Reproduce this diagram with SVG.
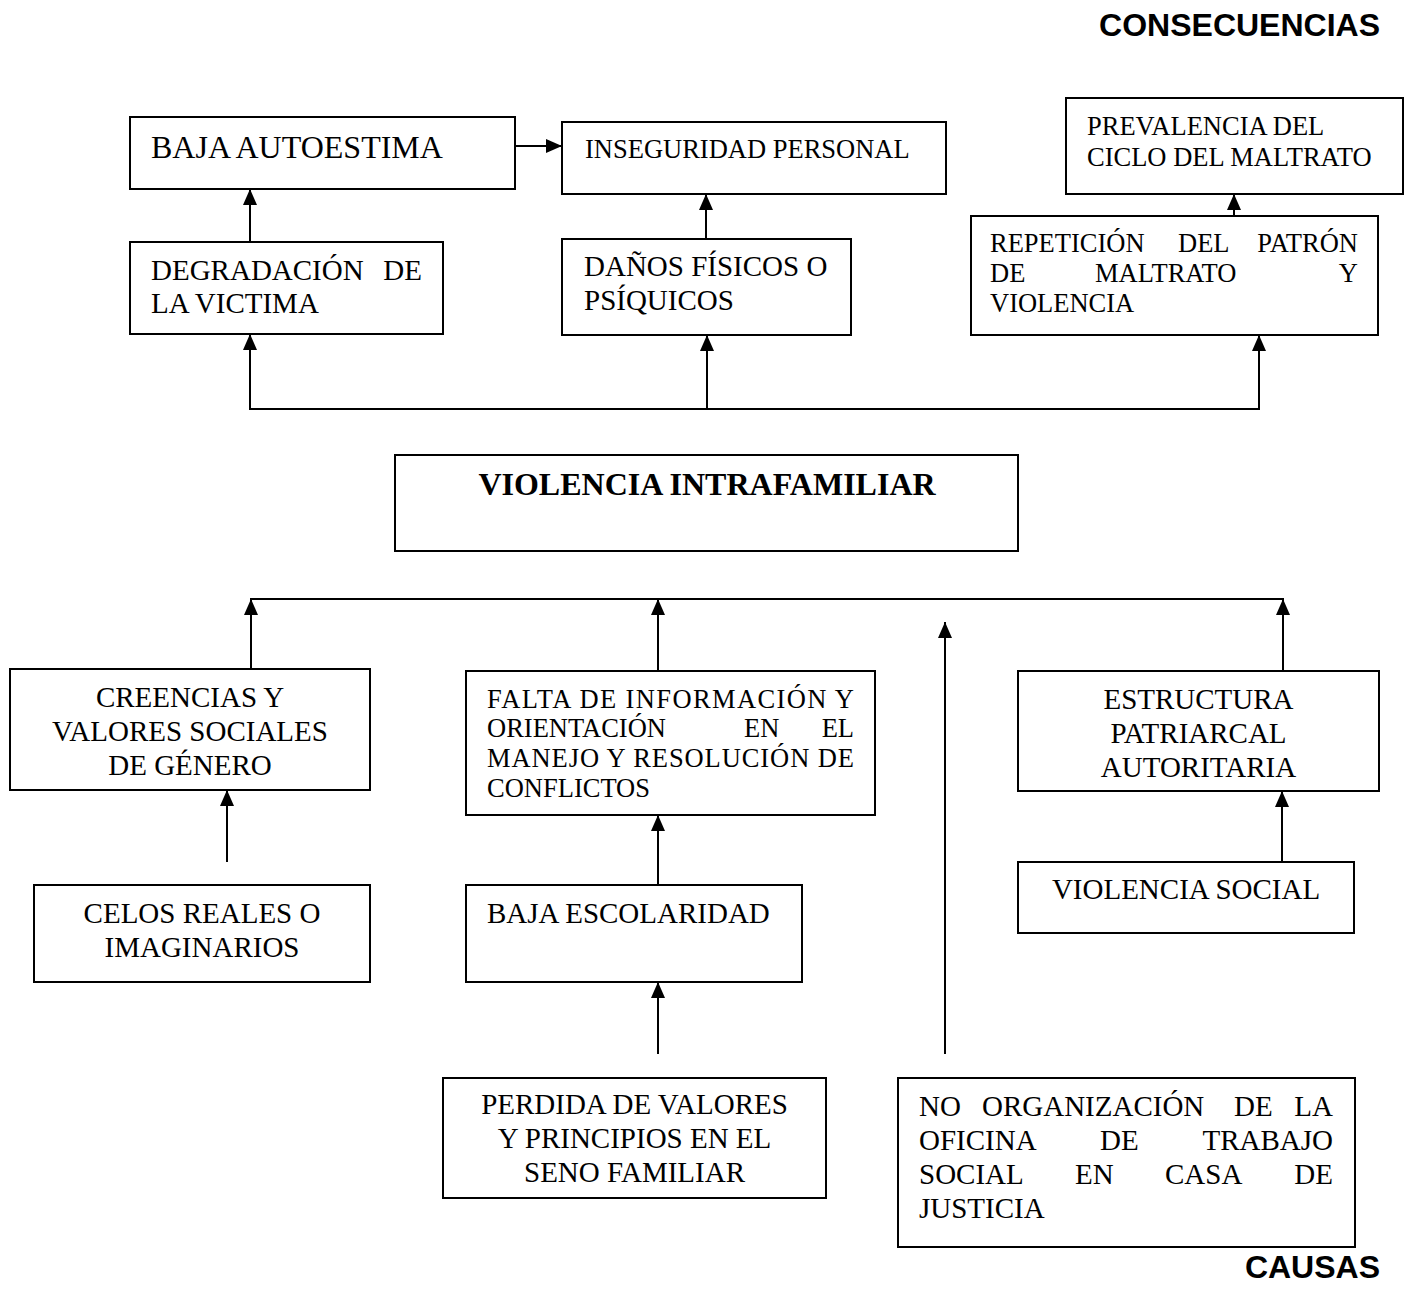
<svg xmlns="http://www.w3.org/2000/svg" width="1410" height="1290" viewBox="0 0 1410 1290">
<style>
.bg{fill:#fff}
.box{fill:#fff;stroke:#000;stroke-width:2}
.ln{fill:none;stroke:#000;stroke-width:2}
.ar{fill:none;stroke:#000;stroke-width:2;marker-end:url(#ah)}
.t{font-family:"Liberation Serif","Times New Roman",serif;fill:#000}
.s26{font-size:26.5px}
.s29{font-size:29px}
.s32{font-size:32px}
.b{font-weight:bold}
.c{text-anchor:middle}
.e{text-anchor:end}
.h{font-family:"Liberation Sans",Arial,sans-serif;font-weight:bold;font-size:32px;fill:#000;text-anchor:end}
</style>
<defs>
<marker id="ah" markerUnits="userSpaceOnUse" markerWidth="16" markerHeight="14" refX="16" refY="7" orient="auto">
<path d="M0,0 L16,7 L0,14 z" fill="#000"/>
</marker>
</defs>
<rect class="bg" x="0" y="0" width="1410" height="1290"/>
<text class="h" x="1380" y="36">CONSECUENCIAS</text>
<text class="h" x="1380" y="1278">CAUSAS</text>

<g id="connectors">
<path class="ar" d="M515,146 H562"/>
<path class="ar" d="M250,242 V189"/>
<path class="ar" d="M706,239 V194"/>
<path class="ar" d="M1234,216 V194"/>
<path class="ln" d="M249,409 H1260"/>
<path class="ar" d="M250,409 V334"/>
<path class="ar" d="M707,409 V335"/>
<path class="ar" d="M1259,409 V335"/>
<path class="ln" d="M250,599 H1284"/>
<path class="ar" d="M251,669 V599"/>
<path class="ar" d="M658,671 V599"/>
<path class="ar" d="M1283,671 V599"/>
<path class="ar" d="M227,862 V790"/>
<path class="ar" d="M658,885 V815"/>
<path class="ar" d="M658,1054 V982"/>
<path class="ar" d="M945,1054 V622"/>
<path class="ar" d="M1282,862 V791"/>
</g>

<g id="baja-autoestima">
<rect class="box" x="130" y="117" width="385" height="72"/>
<text class="t s32" x="151" y="158">BAJA AUTOESTIMA</text>
</g>
<g id="inseguridad-personal">
<rect class="box" x="562" y="122" width="384" height="72"/>
<text class="t s26" x="585" y="158">INSEGURIDAD PERSONAL</text>
</g>
<g id="prevalencia">
<rect class="box" x="1066" y="98" width="337" height="96"/>
<text class="t s26" x="1087" y="135">PREVALENCIA DEL</text>
<text class="t s26" x="1087" y="166">CICLO DEL MALTRATO</text>
</g>
<g id="repeticion">
<rect class="box" x="971" y="216" width="407" height="119"/>
<text class="t s26" x="990" y="252">REPETICIÓN</text>
<text class="t s26" x="1178" y="252">DEL</text>
<text class="t s26 e" x="1358" y="252">PATRÓN</text>
<text class="t s26" x="990" y="282">DE</text>
<text class="t s26" x="1095" y="282">MALTRATO</text>
<text class="t s26 e" x="1358" y="282">Y</text>
<text class="t s26" x="990" y="312">VIOLENCIA</text>
</g>
<g id="danos">
<rect class="box" x="562" y="239" width="289" height="96"/>
<text class="t s29" x="584" y="276">DAÑOS FÍSICOS O</text>
<text class="t s29" x="584" y="310">PSÍQUICOS</text>
</g>
<g id="degradacion">
<rect class="box" x="130" y="242" width="313" height="92"/>
<text class="t s29" x="151" y="280">DEGRADACIÓN</text>
<text class="t s29 e" x="422" y="280">DE</text>
<text class="t s29" x="151" y="313">LA VICTIMA</text>
</g>
<g id="violencia-intrafamiliar">
<rect class="box" x="395" y="455" width="623" height="96"/>
<text class="t s32 b c" x="707" y="495">VIOLENCIA INTRAFAMILIAR</text>
</g>
<g id="creencias">
<rect class="box" x="10" y="669" width="360" height="121"/>
<text class="t s29 c" x="190" y="707">CREENCIAS Y</text>
<text class="t s29 c" x="190" y="741">VALORES SOCIALES</text>
<text class="t s29 c" x="190" y="775">DE GÉNERO</text>
</g>
<g id="falta-informacion">
<rect class="box" x="466" y="671" width="409" height="144"/>
<text class="t s26" x="487" y="708" textLength="367" lengthAdjust="spacing">FALTA DE INFORMACIÓN Y</text>
<text class="t s26" x="487" y="737">ORIENTACIÓN</text>
<text class="t s26" x="744" y="737">EN</text>
<text class="t s26 e" x="854" y="737">EL</text>
<text class="t s26" x="487" y="767" textLength="367" lengthAdjust="spacing">MANEJO Y RESOLUCIÓN DE</text>
<text class="t s26" x="487" y="797">CONFLICTOS</text>
</g>
<g id="estructura">
<rect class="box" x="1018" y="671" width="361" height="120"/>
<text class="t s29 c" x="1198.5" y="709">ESTRUCTURA</text>
<text class="t s29 c" x="1198.5" y="743">PATRIARCAL</text>
<text class="t s29 c" x="1198.5" y="777">AUTORITARIA</text>
</g>
<g id="celos">
<rect class="box" x="34" y="885" width="336" height="97"/>
<text class="t s29 c" x="202" y="923">CELOS REALES O</text>
<text class="t s29 c" x="202" y="957">IMAGINARIOS</text>
</g>
<g id="baja-escolaridad">
<rect class="box" x="466" y="885" width="336" height="97"/>
<text class="t s29" x="487" y="923">BAJA ESCOLARIDAD</text>
</g>
<g id="violencia-social">
<rect class="box" x="1018" y="862" width="336" height="71"/>
<text class="t s29 c" x="1186" y="899">VIOLENCIA SOCIAL</text>
</g>
<g id="perdida-valores">
<rect class="box" x="443" y="1078" width="383" height="120"/>
<text class="t s29 c" x="634.5" y="1114">PERDIDA DE VALORES</text>
<text class="t s29 c" x="634.5" y="1148">Y PRINCIPIOS EN EL</text>
<text class="t s29 c" x="634.5" y="1182">SENO FAMILIAR</text>
</g>
<g id="no-organizacion">
<rect class="box" x="898" y="1078" width="457" height="169"/>
<text class="t s29" x="919" y="1116">NO</text>
<text class="t s29" x="982" y="1116">ORGANIZACIÓN</text>
<text class="t s29" x="1234" y="1116">DE</text>
<text class="t s29 e" x="1333" y="1116">LA</text>
<text class="t s29" x="919" y="1150">OFICINA</text>
<text class="t s29" x="1100" y="1150">DE</text>
<text class="t s29 e" x="1333" y="1150">TRABAJO</text>
<text class="t s29" x="919" y="1184">SOCIAL</text>
<text class="t s29" x="1075" y="1184">EN</text>
<text class="t s29" x="1165" y="1184">CASA</text>
<text class="t s29 e" x="1333" y="1184">DE</text>
<text class="t s29" x="919" y="1218">JUSTICIA</text>
</g>
</svg>
